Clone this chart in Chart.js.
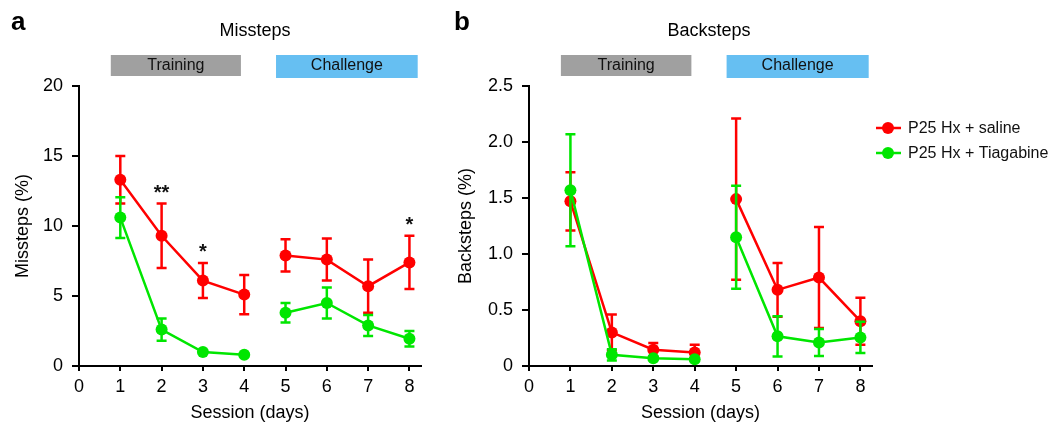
<!DOCTYPE html>
<html>
<head>
<meta charset="utf-8">
<script src="https://cdn.jsdelivr.net/npm/chart.js@4"></script>
<style>
  body { margin: 0; background: #fff; }
  #wrap { position: relative; width: 1049px; height: 425px; }
  canvas { position: absolute; top: 0; }
</style>
</head>
<body>
<div id="wrap">
  <canvas id="missChart" width="440" height="425" style="left:0"></canvas>
  <canvas id="backChart" width="609" height="425" style="left:440px"></canvas>
</div>
<script>
const sessions = [1, 2, 3, 4, 5, 6, 7, 8];
const seriesNames = ["P25 Hx + saline", "P25 Hx + Tiagabine"];

const misstepsSaline = [13.3, 9.3, 6.1, 5.1, 7.9, 7.6, 5.7, 7.4];
const misstepsSalineErr = [1.7, 2.3, 1.25, 1.4, 1.15, 1.5, 1.9, 1.9];
const misstepsTiagabine = [10.6, 2.6, 1.0, 0.8, 3.8, 4.5, 2.9, 1.95];
const misstepsTiagabineErr = [1.45, 0.8, 0.1, 0.1, 0.7, 1.1, 0.75, 0.55];

const backstepsSaline = [1.47, 0.30, 0.145, 0.12, 1.49, 0.68, 0.79, 0.40];
const backstepsSalineErr = [0.26, 0.16, 0.06, 0.07, 0.72, 0.24, 0.45, 0.21];
const backstepsTiagabine = [1.57, 0.10, 0.07, 0.06, 1.15, 0.265, 0.21, 0.255];
const backstepsTiagabineErr = [0.5, 0.05, 0.01, 0.01, 0.46, 0.18, 0.12, 0.14];

// significance marks (panel a, above saline error bars)
const starSessions = [2, 3, 8];
const starLabels = ["**", "*", "*"];

const RED = "#ff0000";
const GREEN = "#00e600";
const FONT = "'Liberation Sans', Arial, sans-serif";

// phase bars above the plots, in session units
const phases = [
  { label: "Training", from: 0.77, to: 3.92, color: "#a0a0a0", top: 55, h: 21 },
  { label: "Challenge", from: 4.77, to: 8.2, color: "#66bff2", top: 55, h: 23 }
];

function points(vals) {
  return sessions.map((s, i) => ({ x: s, y: vals[i] }));
}

function makeDataset(name, vals, errs, color, order) {
  return {
    label: name,
    data: points(vals),
    errors: errs,
    borderColor: color,
    backgroundColor: color,
    pointBackgroundColor: color,
    pointBorderWidth: 0,
    pointRadius: 6,
    borderWidth: 2.5,
    order: order,
    clip: false,
    // no line between session 4 and 5
    segment: {
      borderColor: c => (c.p0DataIndex === 3 ? "rgba(0,0,0,0)" : undefined)
    }
  };
}

const errorBars = {
  id: "errorBars",
  afterDatasetDraw(chart, args) {
    const ds = chart.data.datasets[args.index];
    const y = chart.scales.y;
    const ctx = chart.ctx;
    ctx.save();
    ctx.strokeStyle = ds.borderColor;
    ctx.lineWidth = 2.5;
    args.meta.data.forEach((pt, i) => {
      const v = ds.data[i].y, e = ds.errors[i];
      const top = y.getPixelForValue(v + e);
      const bot = y.getPixelForValue(Math.max(0, v - e));
      ctx.beginPath();
      ctx.moveTo(pt.x, top); ctx.lineTo(pt.x, bot);
      ctx.moveTo(pt.x - 5, top); ctx.lineTo(pt.x + 5, top);
      ctx.moveTo(pt.x - 5, bot); ctx.lineTo(pt.x + 5, bot);
      ctx.stroke();
    });
    ctx.restore();
  }
};

const decorations = {
  id: "decorations",
  afterDraw(chart, args, opts) {
    const ctx = chart.ctx;
    const x = chart.scales.x, y = chart.scales.y;
    ctx.save();
    // panel letter
    ctx.fillStyle = "#000";
    ctx.font = "bold 26px " + FONT;
    ctx.textAlign = "left";
    ctx.textBaseline = "alphabetic";
    ctx.fillText(opts.letter, opts.letterX, 30);
    // panel title
    ctx.font = "18px " + FONT;
    ctx.textAlign = "center";
    ctx.fillText(opts.title, opts.titleX, 36);
    // phase bars
    phases.forEach(p => {
      const x0 = x.getPixelForValue(p.from), x1 = x.getPixelForValue(p.to);
      ctx.fillStyle = p.color;
      ctx.fillRect(x0, p.top, x1 - x0, p.h);
      ctx.fillStyle = "#111";
      ctx.font = "16px " + FONT;
      ctx.textBaseline = "middle";
      ctx.fillText(p.label, (x0 + x1) / 2, p.top + 11);
    });
    // stars
    if (opts.stars) {
      const ds = chart.data.datasets.find(d => d.label === seriesNames[0]);
      ctx.font = "bold 20px " + FONT;
      ctx.fillStyle = "#111";
      ctx.textBaseline = "alphabetic";
      starSessions.forEach((s, k) => {
        const i = sessions.indexOf(s);
        const top = y.getPixelForValue(ds.data[i].y + ds.errors[i]);
        ctx.fillText(starLabels[k], x.getPixelForValue(s), top - 5);
      });
    }
    // legend
    if (opts.legend) {
      const colors = [RED, GREEN];
      ctx.font = "16px " + FONT;
      ctx.textAlign = "left";
      ctx.textBaseline = "middle";
      seriesNames.forEach((n, k) => {
        const ly = 128 + k * 25;
        ctx.strokeStyle = colors[k];
        ctx.lineWidth = 2.5;
        ctx.beginPath();
        ctx.moveTo(436, ly); ctx.lineTo(461, ly);
        ctx.stroke();
        ctx.fillStyle = colors[k];
        ctx.beginPath();
        ctx.arc(448, ly, 6, 0, Math.PI * 2);
        ctx.fill();
        ctx.fillStyle = "#111";
        ctx.fillText(n, 468, ly + 1);
      });
    }
    ctx.restore();
  }
};

function makeOptions(cfg) {
  return {
    responsive: false,
    animation: false,
    layout: { padding: { top: 86, right: cfg.padRight, left: 0, bottom: 0 } },
    plugins: {
      legend: { display: false },
      tooltip: { enabled: false },
      decorations: cfg.deco
    },
    scales: {
      x: {
        type: "linear",
        min: 0,
        max: 8.28,
        afterFit: s => { s.height = 59; },
        grid: { drawOnChartArea: false, drawTicks: true, tickLength: 5, color: "#000", lineWidth: 2 },
        border: { display: true, color: "#000", width: 2 },
        ticks: { stepSize: 1, includeBounds: false, color: "#000", padding: 5, font: { family: FONT, size: 18 } },
        title: { display: true, text: "Session (days)", color: "#000", font: { family: FONT, size: 18 }, padding: { top: 0, bottom: 1 } }
      },
      y: {
        min: 0,
        max: cfg.yMax,
        afterFit: s => { s.width = cfg.axisLeft; },
        grid: { drawOnChartArea: false, drawTicks: true, tickLength: 7, color: "#000", lineWidth: 2 },
        border: { display: true, color: "#000", width: 2 },
        ticks: { stepSize: cfg.yStep, color: "#000", padding: 9, font: { family: FONT, size: 18 }, callback: cfg.fmt },
        title: { display: true, text: cfg.yTitle, color: "#000", font: { family: FONT, size: 18 }, padding: { top: cfg.titlePad, bottom: 0 } }
      }
    }
  };
}

new Chart(document.getElementById("missChart"), {
  type: "line",
  data: {
    datasets: [
      makeDataset(seriesNames[0], misstepsSaline, misstepsSalineErr, RED, 2),
      makeDataset(seriesNames[1], misstepsTiagabine, misstepsTiagabineErr, GREEN, 1)
    ]
  },
  options: makeOptions({
    padRight: 19, axisLeft: 79, yMax: 20, yStep: 5, yTitle: "Missteps (%)", titlePad: 12,
    fmt: v => String(v),
    deco: { letter: "a", letterX: 11, title: "Missteps", titleX: 255, stars: true, legend: false }
  }),
  plugins: [errorBars, decorations]
});

new Chart(document.getElementById("backChart"), {
  type: "line",
  data: {
    datasets: [
      makeDataset(seriesNames[0], backstepsSaline, backstepsSalineErr, RED, 2),
      makeDataset(seriesNames[1], backstepsTiagabine, backstepsTiagabineErr, GREEN, 1)
    ]
  },
  options: makeOptions({
    padRight: 177, axisLeft: 89, yMax: 2.5, yStep: 0.5, yTitle: "Backsteps (%)", titlePad: 15,
    fmt: v => (v === 0 ? "0" : v.toFixed(1)),
    deco: { letter: "b", letterX: 14, title: "Backsteps", titleX: 269, stars: false, legend: true }
  }),
  plugins: [errorBars, decorations]
});
</script>
</body>
</html>
